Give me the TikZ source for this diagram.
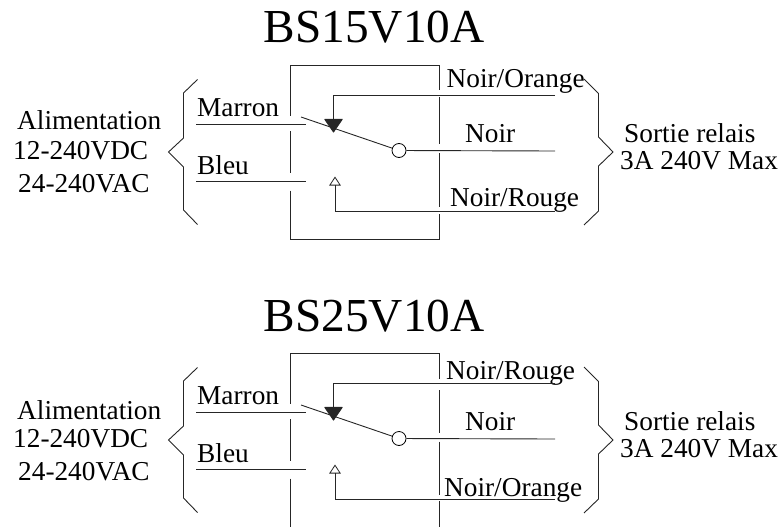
\documentclass[tikz,border=0pt]{standalone}
\usepackage{fontspec}
\setmainfont{Liberation Serif}
\usetikzlibrary{arrows.meta}
\tikzset{
  lbl/.style={anchor=base west,inner sep=0pt,font=\fontsize{27.3}{27.3}\selectfont},
  titlelbl/.style={anchor=base west,inner sep=0pt,font=\fontsize{47.3}{47.3}\selectfont},
  wire/.style={line width=0.9pt,black!85},
  contact/.style={circle,draw,fill=white,line width=0.8pt,inner sep=0pt,minimum size=14pt},
  nctip/.style={-{Triangle[round,length=14pt,width=19pt]}},
  notip/.style={-{Triangle[open,length=9pt,width=11.5pt,line width=0.8pt]}}
}
\begin{document}
\begin{tikzpicture}[x=1pt,y=-1pt]
\useasboundingbox (0,0) rectangle (783,527);
% upper relay
\node[titlelbl] (titleA) at (263.5,43) {BS15V10A};
\node[lbl] (alimA) at (17,129.5) {Alimentation};
\node[lbl] (dcA) at (13,159) {12-240VDC};
\node[lbl] (acA) at (18,192) {24-240VAC};
\node[lbl] (marronA) at (197,116.5) {Marron};
\node[lbl] (bleuA) at (197,174) {Bleu};
\node[lbl] (orangeA) at (446.5,87.5) {Noir/Orange};
\node[lbl] (noirA) at (465,142.5) {Noir};
\node[lbl] (rougeA) at (450,206.5) {Noir/Rouge};
\node[lbl] (sortieA) at (624,142) {Sortie relais};
\node[lbl] (maxA) at (620,169) {3A 240V Max};
\node[contact] (comA) at (399,150.5) {};
% case
\draw[wire] (290.5,115.5) -- (290.5,65) -- (439.5,65) -- (439.5,90);
\draw[wire] (290.5,131) -- (290.5,172.5);
\draw[wire] (290.5,190.5) -- (290.5,239.5) -- (439.5,239.5) -- (439.5,213.5);
\draw[wire] (439.5,97) -- (439.5,144);
\draw[wire] (439.5,153) -- (439.5,206.5);
% wires
\draw[wire] (196,124) -- (305.5,124);
\draw[wire] (196,181.5) -- (305.5,181.5);
\draw[wire,nctip] (555,95.5) -- (333.5,95.5) -- (333.5,132.5);
\draw[wire,notip] (555,211) -- (335,211) -- (335,176.5);
\draw[wire] (301,117) -- (comA);
\draw[wire] (comA) -- (555,151);
% braces
\draw[wire] (197.5,79.5) -- (183.5,93) -- (183.5,138) -- (168.5,152) -- (183.5,167) -- (183.5,210) -- (197.5,224.5);
\draw[wire] (584,79) -- (598.5,93.5) -- (598.5,137) -- (613,152) -- (598.5,166) -- (598.5,211) -- (584,225);
% lower relay
\begin{scope}[yshift=-288pt]
\node[titlelbl] (titleB) at (263.5,43) {BS25V10A};
\node[lbl] (alimB) at (17,131) {Alimentation};
\node[lbl] (dcB) at (13,159) {12-240VDC};
\node[lbl] (acB) at (18,192.5) {24-240VAC};
\node[lbl] (marronB) at (197,116.5) {Marron};
\node[lbl] (bleuB) at (197,174) {Bleu};
\node[lbl] (rougeB) at (446,91) {Noir/Rouge};
\node[lbl] (noirB) at (465,142.5) {Noir};
\node[lbl] (orangeB) at (444,208) {Noir/Orange};
\node[lbl] (sortieB) at (624,142) {Sortie relais};
\node[lbl] (maxB) at (620,169) {3A 240V Max};
\node[contact] (comB) at (399,150.5) {};
% case
\draw[wire] (290.5,115.5) -- (290.5,65) -- (439.5,65) -- (439.5,91);
\draw[wire] (290.5,131) -- (290.5,172.5);
\draw[wire] (290.5,190.5) -- (290.5,239);
\draw[wire] (439.5,102) -- (439.5,145);
\draw[wire] (439.5,153.5) -- (439.5,207);
\draw[wire] (439.5,213) -- (439.5,239);
% wires
\draw[wire] (196,124) -- (305.5,124);
\draw[wire] (196,181.5) -- (305.5,181.5);
\draw[wire,nctip] (555,95.5) -- (333.5,95.5) -- (333.5,132.5);
\draw[wire,notip] (555,211) -- (335,211) -- (335,176.5);
\draw[wire] (301,117) -- (comB);
\draw[wire] (comB) -- (555,151);
% braces
\draw[wire] (197.5,79.5) -- (183.5,93) -- (183.5,138) -- (168.5,152) -- (183.5,167) -- (183.5,210) -- (197.5,224.5);
\draw[wire] (584,79) -- (598.5,93.5) -- (598.5,137) -- (613,152) -- (598.5,166) -- (598.5,211) -- (584,225);
\end{scope}
\end{tikzpicture}
\end{document}
